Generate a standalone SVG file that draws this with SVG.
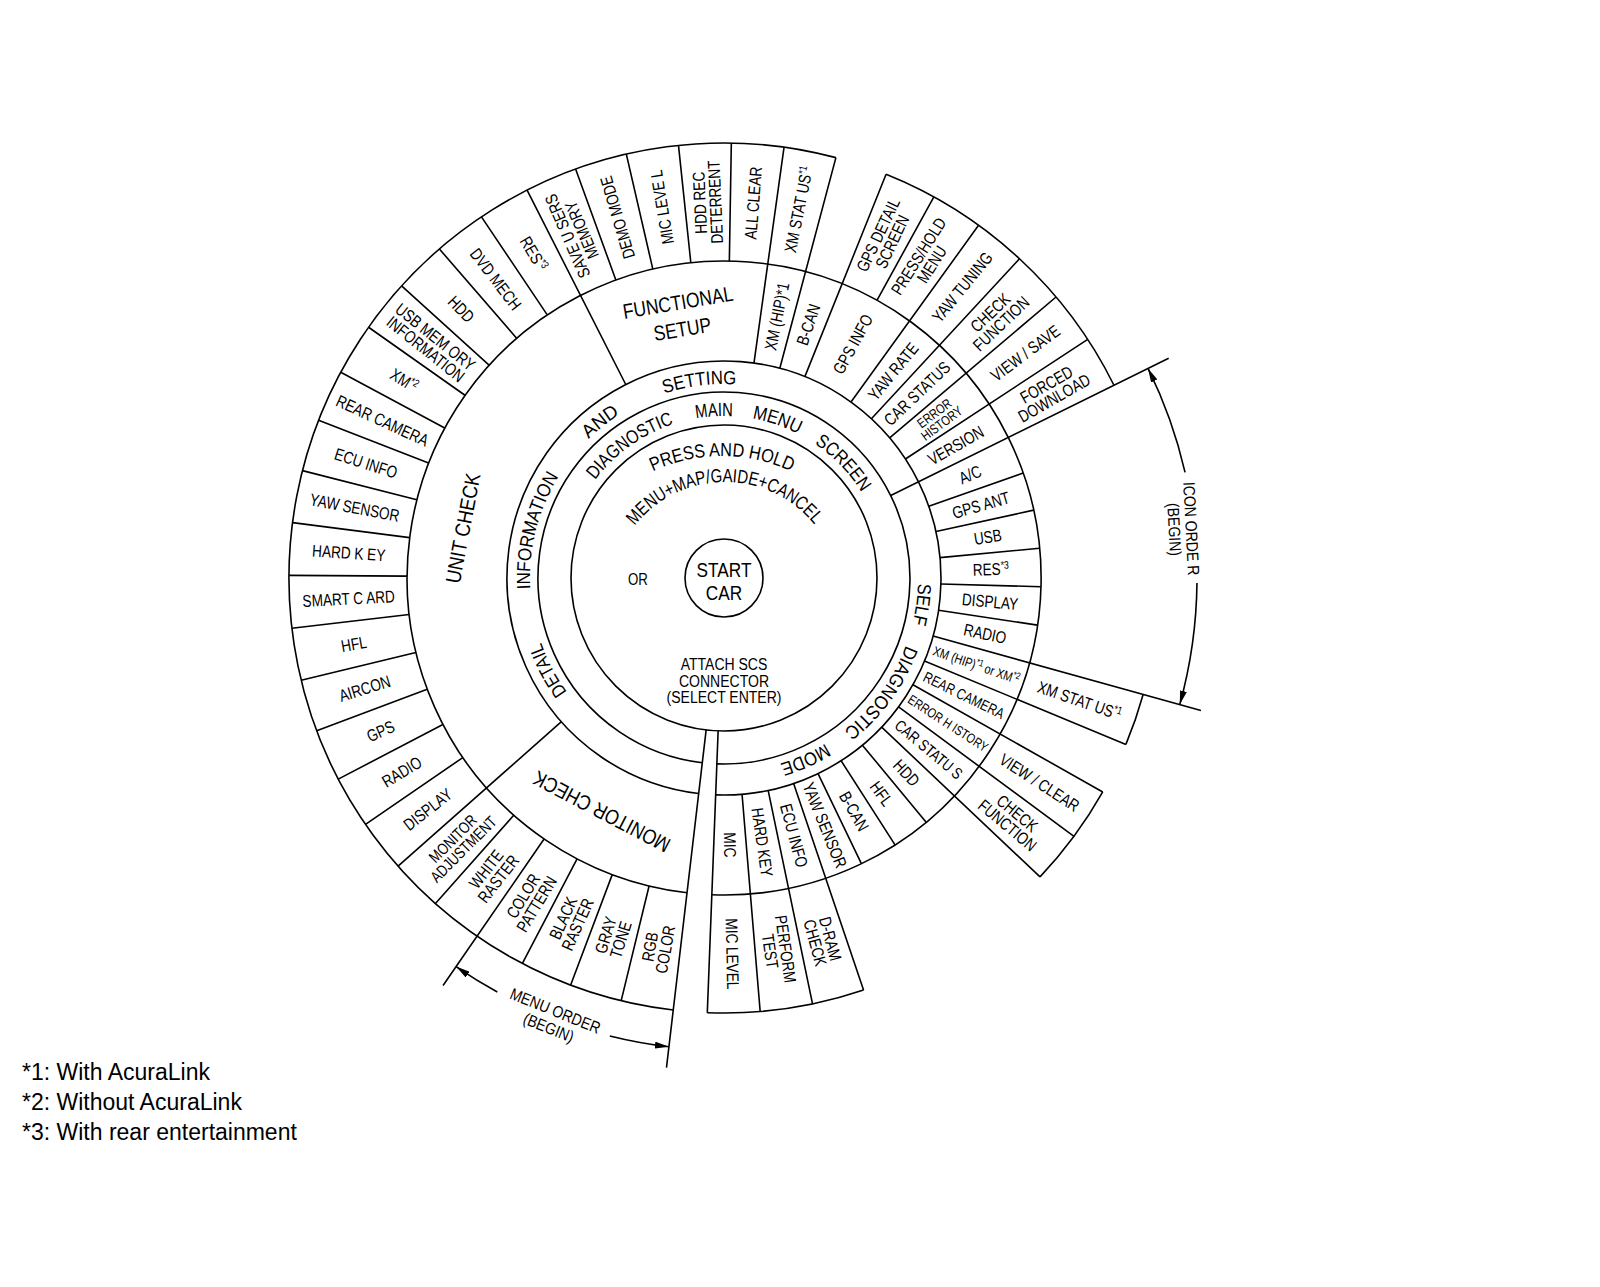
<svg xmlns="http://www.w3.org/2000/svg" width="1600" height="1287" viewBox="0 0 1600 1287">
<style>
.ln{fill:none;stroke:#000;stroke-width:1.6}
.t{font-family:"Liberation Sans",Arial,Helvetica,sans-serif;fill:#000;text-anchor:middle}
.f17{font-size:17px}
.f16{font-size:16px}
.f15{font-size:15px}
.f13{font-size:13.5px}
.f19{font-size:19px}
.f21{font-size:21px}
.f165{font-size:16.5px}
.sup{font-size:11px}
.note{font-family:"Liberation Sans",Arial,Helvetica,sans-serif;font-size:23px;fill:#000}
</style>
<defs>
<marker id="arr" viewBox="0 0 14 7" refX="14" refY="3.5" markerWidth="14" markerHeight="7" markerUnits="userSpaceOnUse" orient="auto"><path d="M0,0 L14,3.5 L0,7 Z" fill="#000"/></marker>
<path id="ringA" d="M 724 772 A 194 194 0 1 1 724 384 A 194 194 0 1 1 724 772"/>
<path id="ringB" d="M 724 740 A 162 162 0 1 1 724 416 A 162 162 0 1 1 724 740"/>
<path id="ringC" d="M 722 783 A 163.5 163.5 0 1 1 722 456 A 163.5 163.5 0 1 1 722 783"/>
<path id="ringD" d="M 725 712 A 115 115 0 1 1 725 482 A 115 115 0 1 1 725 712"/>
</defs>
<rect width="1600" height="1287" fill="#fff"/>

<g id="connectors">
<circle class="ln" cx="724" cy="578" r="39"/>
<circle class="ln" cx="724" cy="578" r="153"/>
<path class="ln" d="M 702.30 762.73 A 186 186 0 1 1 716.86 763.86"/>
<path class="ln" d="M 698.68 793.52 A 217 217 0 1 1 715.67 794.84"/>
<path class="ln" d="M 687.02 892.83 A 317 317 0 1 1 711.83 894.77"/>
<path class="ln" d="M 673.25 1010.03 A 435 435 0 1 1 835.90 157.64"/>
<path class="ln" d="M 886.09 174.32 A 435 435 0 0 1 1113.97 385.26"/>
<path class="ln" d="M 1143.13 694.42 A 435 435 0 0 1 1125.91 744.43"/>
<path class="ln" d="M 1102.74 791.97 A 435 435 0 0 1 1040.03 876.92"/>
<path class="ln" d="M 863.55 990.01 A 435 435 0 0 1 707.30 1012.68"/>
<path class="ln" d="M706.15 729.95 L666.48 1067.63 M649.08 886.02 L621.19 1000.68 M612.25 874.65 L570.66 985.08 M577.08 858.90 L522.39 963.46 M544.07 838.99 L443.04 985.54 M513.73 815.22 L435.46 903.53 M561.42 721.72 L398.08 866.10 M462.77 757.58 L365.53 824.42 M442.91 724.55 L338.27 779.10 M427.20 689.35 L316.72 730.80 M415.88 652.51 L301.18 680.24 M409.11 614.56 L291.90 628.17 M407.01 576.08 L289.01 575.37 M409.58 537.62 L292.55 522.59 M416.80 499.76 L302.45 470.64 M428.57 463.06 L318.60 420.28 M444.70 428.06 L340.74 372.24 M464.96 395.27 L368.54 327.25 M489.06 365.18 L401.60 285.96 M516.62 338.25 L439.42 249.00 M547.25 314.85 L481.46 216.89 M625.76 384.51 L527.08 190.13 M615.86 280.02 L575.60 169.10 M652.82 269.09 L626.33 154.11 M690.83 262.74 L678.49 145.39 M729.34 261.04 L731.33 143.06 M753.96 363.08 L784.06 147.17 M779.82 368.30 L835.90 157.64 M804.86 376.63 L886.09 174.32 M876.94 300.34 L933.87 196.98 M850.99 402.04 L978.57 225.27 M871.41 418.75 L1019.49 258.77 M889.64 437.82 L1056.05 296.99 M905.43 458.96 L1087.70 339.36 M890.75 495.59 L1168.66 358.24 M928.77 506.18 L1023.13 473.08 M935.97 531.55 L1033.65 510.15 M940.04 557.62 L1039.60 548.23 M940.92 583.99 L1040.88 586.75 M938.59 610.27 L1037.47 625.15 M933.08 636.08 L1200.94 710.48 M924.49 661.02 L1125.91 744.43 M912.93 684.74 L1102.74 791.97 M898.58 706.88 L1073.97 836.35 M881.65 727.11 L1040.03 876.92 M862.39 745.15 L926.16 822.17 M841.08 760.70 L895.04 844.90 M818.04 773.56 L861.38 863.68 M793.62 783.53 L863.55 990.01 M768.16 790.46 L812.52 1003.90 M742.05 794.25 L760.18 1011.49 M718.13 730.89 L707.30 1012.68"/>
<path class="ln" marker-end="url(#arr)" d="M 1185.06 472.40 A 473 473 0 0 0 1148.04 368.43"/>
<path class="ln" marker-end="url(#arr)" d="M 1196.97 582.95 A 473 473 0 0 1 1179.74 704.59"/>
<path class="ln" marker-end="url(#arr)" d="M 497.34 992.01 A 472 472 0 0 1 456.10 966.60"/>
<path class="ln" marker-end="url(#arr)" d="M 609.81 1035.98 A 472 472 0 0 0 668.93 1046.78"/>
</g>

<g id="hub">
<text class="t f21" transform="translate(724 576.5) scale(0.82 1)"><tspan x="0" y="0">START</tspan><tspan x="0" y="23.5">CAR</tspan></text>
<text class="t f16" transform="translate(638 585) scale(0.83 1)">OR</text>
<text class="t f165" transform="translate(724 670) scale(0.85 1)"><tspan x="0" y="0">ATTACH SCS</tspan><tspan x="0" y="16.7">CONNECTOR</tspan><tspan x="0" y="33.4">(SELECT ENTER)</tspan></text>
<text class="t f19"><textPath href="#ringC" startOffset="513.4" textLength="143" lengthAdjust="spacingAndGlyphs">PRESS AND HOLD</textPath></text>
<text class="t f19"><textPath href="#ringD" startOffset="360.08" textLength="206" lengthAdjust="spacingAndGlyphs">MENU+MAP/GAIDE+CANCEL</textPath></text>
</g>

<g id="main-menu-ring">
<text class="t f19"><textPath href="#ringB" startOffset="408.56" textLength="98" lengthAdjust="spacingAndGlyphs">DIAGNOSTIC</textPath></text>
<text class="t f19"><textPath href="#ringB" startOffset="499.04" textLength="37" lengthAdjust="spacingAndGlyphs">MAIN</textPath></text>
<text class="t f19"><textPath href="#ringB" startOffset="561.53" textLength="49" lengthAdjust="spacingAndGlyphs">MENU</textPath></text>
<text class="t f19"><textPath href="#ringB" startOffset="638.72" textLength="68" lengthAdjust="spacingAndGlyphs">SCREEN</textPath></text>
</g>

<g id="info-setting">
<text class="t f19"><textPath href="#ringA" startOffset="210.78" textLength="56" lengthAdjust="spacingAndGlyphs">DETAIL</textPath></text>
<text class="t f19"><textPath href="#ringA" startOffset="352.48" textLength="118" lengthAdjust="spacingAndGlyphs">INFORMATION</textPath></text>
<text class="t f19"><textPath href="#ringA" startOffset="479.45" textLength="40" lengthAdjust="spacingAndGlyphs">AND</textPath></text>
<text class="t f19"><textPath href="#ringA" startOffset="584.92" textLength="73" lengthAdjust="spacingAndGlyphs">SETTING</textPath></text>
</g>

<g id="self-diagnostic">
<text class="t f19"><textPath href="#ringA" startOffset="939.94" textLength="41" lengthAdjust="spacingAndGlyphs">SELF</textPath></text>
<text class="t f19"><textPath href="#ringA" startOffset="1036.10" textLength="107" lengthAdjust="spacingAndGlyphs">DIAGNOSTIC</textPath></text>
<text class="t f19"><textPath href="#ringA" startOffset="1136.66" textLength="50" lengthAdjust="spacingAndGlyphs">MODE</textPath></text>
</g>

<g id="unit-check"><text class="t f21" transform="translate(462.7 528.1) rotate(-79.2) scale(0.87 1)" y="7.5">UNIT CHECK</text></g>
<g id="monitor-check"><text class="t f21" transform="translate(601.6 811.9) rotate(207.6) scale(0.85 1)" y="7.5">MONITOR CHECK</text></g>
<g id="functional-setup"><text class="t f21" transform="translate(680.1 315.6) rotate(-9.5) scale(0.83 1)"><tspan x="0" y="-6">FUNCTIONAL</tspan><tspan x="0" y="21">SETUP</tspan></text></g>

<g id="mc-rgb-color"><text class="t f17" transform="translate(657.5 948.1) rotate(-79.8) scale(0.8 1)"><tspan x="0" y="-1.8">RGB</tspan><tspan x="0" y="13.8">COLOR</tspan></text></g>
<g id="mc-gray-tone"><text class="t f17" transform="translate(613.1 937.3) rotate(-72.8) scale(0.8 1)"><tspan x="0" y="-1.8">GRAY</tspan><tspan x="0" y="13.8">TONE</tspan></text></g>
<g id="mc-black-raster"><text class="t f17" transform="translate(570.3 921.2) rotate(-65.9) scale(0.8 1)"><tspan x="0" y="-1.8">BLACK</tspan><tspan x="0" y="13.8">RASTER</tspan></text></g>
<g id="mc-color-pattern"><text class="t f17" transform="translate(529.8 900.0) rotate(-58.9) scale(0.8 1)"><tspan x="0" y="-1.8">COLOR</tspan><tspan x="0" y="13.8">PATTERN</tspan></text></g>
<g id="mc-white-raster"><text class="t f17" transform="translate(492.2 874.0) rotate(-51.9) scale(0.8 1)"><tspan x="0" y="-1.8">WHITE</tspan><tspan x="0" y="13.8">RASTER</tspan></text></g>
<g id="mc-monitor-adjustment"><text class="t f16" transform="translate(458.0 843.7) rotate(-45.0) scale(0.8 1)"><tspan x="0" y="-1.6">MONITOR</tspan><tspan x="0" y="13.2">ADJUSTMENT</tspan></text></g>

<g id="uc-display"><text class="t f17" transform="translate(427.7 809.4) rotate(-38.0) scale(0.8 1)" y="6">DISPLAY</text></g>
<g id="uc-radio"><text class="t f17" transform="translate(401.8 771.8) rotate(-31.0) scale(0.8 1)" y="6">RADIO</text></g>
<g id="uc-gps"><text class="t f17" transform="translate(380.6 731.2) rotate(-24.0) scale(0.8 1)" y="6">GPS</text></g>
<g id="uc-aircon"><text class="t f17" transform="translate(364.6 688.4) rotate(-17.1) scale(0.8 1)" y="6">AIRCON</text></g>
<g id="uc-hfl"><text class="t f17" transform="translate(353.8 644.0) rotate(-10.1) scale(0.8 1)" y="6">HFL</text></g>
<g id="uc-smart-card"><text class="t f17" transform="translate(348.6 598.6) rotate(-3.1) scale(0.8 1)" y="6">SMART C ARD</text></g>
<g id="uc-hard-key"><text class="t f17" transform="translate(348.8 552.9) rotate(3.8) scale(0.8 1)" y="6">HARD K EY</text></g>
<g id="uc-yaw-sensor"><text class="t f17" transform="translate(354.7 507.5) rotate(10.8) scale(0.8 1)" y="6">YAW SENSOR</text></g>
<g id="uc-ecu-info"><text class="t f17" transform="translate(366.0 463.2) rotate(17.8) scale(0.8 1)" y="6">ECU INFO</text></g>
<g id="uc-rear-camera"><text class="t f17" transform="translate(382.5 420.6) rotate(24.7) scale(0.8 1)" y="6">REAR CAMERA</text></g>
<g id="uc-xm"><text class="t f17" transform="translate(404.2 380.3) rotate(31.7) scale(0.8 1)" y="6">XM<tspan class="sup" dy="-6">*2</tspan></text></g>
<g id="uc-usb-memory"><text class="t f17" transform="translate(430.5 343.0) rotate(38.7) scale(0.8 1)"><tspan x="0" y="-1.8">USB MEM ORY</tspan><tspan x="0" y="13.8">INFORMATION</tspan></text></g>
<g id="uc-hdd"><text class="t f17" transform="translate(461.2 309.1) rotate(45.7) scale(0.8 1)" y="6">HDD</text></g>
<g id="uc-dvd-mech"><text class="t f17" transform="translate(495.8 279.2) rotate(52.6) scale(0.8 1)" y="6">DVD MECH</text></g>
<g id="uc-res"><text class="t f17" transform="translate(533.7 253.7) rotate(59.6) scale(0.8 1)" y="6">RES<tspan class="sup" dy="-6">*3</tspan></text></g>

<g id="fs-save-users-memory"><text class="t f17" transform="translate(574.5 233.0) rotate(-113.4) scale(0.8 1)"><tspan x="0" y="-1.8">SAVE U SERS</tspan><tspan x="0" y="13.8">MEMORY</tspan></text></g>
<g id="fs-demo-mode"><text class="t f17" transform="translate(617.5 217.4) rotate(-106.5) scale(0.8 1)" y="6">DEMO MODE</text></g>
<g id="fs-mic-level"><text class="t f17" transform="translate(662.0 207.2) rotate(-99.5) scale(0.8 1)" y="6">MIC LEVE L</text></g>
<g id="fs-hdd-rec"><text class="t f17" transform="translate(707.5 202.4) rotate(-92.5) scale(0.8 1)"><tspan x="0" y="-1.8">HDD REC</tspan><tspan x="0" y="13.8">DETERRENT</tspan></text></g>
<g id="fs-all-clear"><text class="t f17" transform="translate(753.2 203.1) rotate(-85.5) scale(0.8 1)" y="6">ALL CLEAR</text></g>
<g id="fs-xm-status"><text class="t f17" transform="translate(798.5 209.4) rotate(-78.6) scale(0.8 1)" y="6">XM STAT US<tspan class="sup" dy="-6">*1</tspan></text></g>

<g id="sd-xm-hip"><text class="t f17" transform="translate(776.9 316.3) rotate(-78.6) scale(0.8 1)" y="6">XM (HIP)*1</text></g>
<g id="sd-b-can-top"><text class="t f17" transform="translate(808.2 324.6) rotate(-71.6) scale(0.8 1)" y="6">B-CAN</text></g>
<g id="sd-gps-info"><text class="t f17" transform="translate(852.8 344.1) rotate(-61.2) scale(0.8 1)" y="6">GPS INFO</text></g>
<g id="sd-gps-detail"><text class="t f17" transform="translate(885.1 238.2) rotate(-64.6) scale(0.8 1)"><tspan x="0" y="-1.8">GPS DETAIL</tspan><tspan x="0" y="13.8">SCREEN</tspan></text></g>
<g id="sd-press-hold"><text class="t f17" transform="translate(925.1 260.3) rotate(-57.7) scale(0.8 1)"><tspan x="0" y="-1.8">PRESS/HOLD</tspan><tspan x="0" y="13.8">MENU</tspan></text></g>
<g id="sd-yaw-rate"><text class="t f17" transform="translate(893.1 371.4) rotate(-50.7) scale(0.8 1)" y="6">YAW RATE</text></g>
<g id="sd-yaw-tuning"><text class="t f17" transform="translate(962.2 287.1) rotate(-50.7) scale(0.8 1)" y="6">YAW TUNING</text></g>
<g id="sd-car-status-top"><text class="t f17" transform="translate(917.0 393.5) rotate(-43.7) scale(0.8 1)" y="6">CAR STATUS</text></g>
<g id="sd-check-function-top"><text class="t f17" transform="translate(995.7 318.1) rotate(-43.7) scale(0.8 1)"><tspan x="0" y="-1.8">CHECK</tspan><tspan x="0" y="13.8">FUNCTION</tspan></text></g>
<g id="sd-error-history-top"><text class="t f13" transform="translate(937.9 418.2) rotate(-36.8) scale(0.8 1)"><tspan x="0" y="-1.5">ERROR</tspan><tspan x="0" y="11">HISTORY</tspan></text></g>
<g id="sd-view-save"><text class="t f17" transform="translate(1025.3 353.0) rotate(-36.8) scale(0.8 1)" y="6">VIEW / SAVE</text></g>
<g id="sd-version"><text class="t f17" transform="translate(955.7 445.4) rotate(-29.8) scale(0.8 1)" y="6">VERSION</text></g>
<g id="sd-forced-download"><text class="t f17" transform="translate(1050.3 391.2) rotate(-29.8) scale(0.8 1)"><tspan x="0" y="-1.8">FORCED</tspan><tspan x="0" y="13.8">DOWNLOAD</tspan></text></g>

<g id="sd-ac"><text class="t f17" transform="translate(970.1 474.5) rotate(-22.8) scale(0.8 1)" y="6">A/C</text></g>
<g id="sd-gps-ant"><text class="t f17" transform="translate(980.9 505.1) rotate(-15.8) scale(0.8 1)" y="6">GPS ANT</text></g>
<g id="sd-usb"><text class="t f17" transform="translate(987.8 536.8) rotate(-8.9) scale(0.8 1)" y="6">USB</text></g>
<g id="sd-res"><text class="t f17" transform="translate(990.9 569.1) rotate(-1.9) scale(0.8 1)" y="6">RES<tspan class="sup" dy="-6">*3</tspan></text></g>
<g id="sd-display"><text class="t f17" transform="translate(990.0 601.6) rotate(5.1) scale(0.8 1)" y="6">DISPLAY</text></g>
<g id="sd-radio"><text class="t f17" transform="translate(985.1 633.7) rotate(12.0) scale(0.8 1)" y="6">RADIO</text></g>
<g id="sd-xm"><text class="t f13" transform="translate(976.4 665.0) rotate(19.0) scale(0.8 1)" y="4.8">XM (HIP)<tspan font-size="9.5" dy="-5">*1</tspan><tspan dy="5"> or XM</tspan><tspan font-size="9.5" dy="-5">*2</tspan></text></g>
<g id="sd-xm-status"><text class="t f17" transform="translate(1079.5 700.5) rotate(19.0) scale(0.8 1)" y="6">XM STAT US<tspan class="sup" dy="-6">*1</tspan></text></g>
<g id="sd-rear-camera"><text class="t f15" transform="translate(964.0 695.0) rotate(26.0) scale(0.8 1)" y="5.4">REAR CAMERA</text></g>
<g id="sd-error-history"><text class="t f13" transform="translate(948.1 723.2) rotate(33.0) scale(0.8 1)" y="4.8">ERROR H ISTORY</text></g>
<g id="sd-view-clear"><text class="t f17" transform="translate(1039.5 782.5) rotate(33.0) scale(0.8 1)" y="6">VIEW / CLEAR</text></g>
<g id="sd-car-status"><text class="t f16" transform="translate(928.8 749.3) rotate(39.9) scale(0.8 1)" y="5.7">CAR STATU S</text></g>
<g id="sd-check-function"><text class="t f17" transform="translate(1012.4 819.3) rotate(39.9) scale(0.8 1)"><tspan x="0" y="-1.8">CHECK</tspan><tspan x="0" y="13.8">FUNCTION</tspan></text></g>
<g id="sd-hdd"><text class="t f17" transform="translate(906.5 772.9) rotate(46.9) scale(0.8 1)" y="6">HDD</text></g>
<g id="sd-hfl"><text class="t f17" transform="translate(881.5 793.6) rotate(53.9) scale(0.8 1)" y="6">HFL</text></g>
<g id="sd-b-can"><text class="t f17" transform="translate(854.1 811.2) rotate(60.8) scale(0.8 1)" y="6">B-CAN</text></g>
<g id="sd-yaw-sensor"><text class="t f17" transform="translate(824.9 825.2) rotate(67.8) scale(0.8 1)" y="6">YAW SENSOR</text></g>
<g id="sd-ecu-info"><text class="t f17" transform="translate(794.1 835.6) rotate(74.8) scale(0.8 1)" y="6">ECU INFO</text></g>
<g id="sd-d-ram"><text class="t f17" transform="translate(822.8 940.8) rotate(74.8) scale(0.8 1)"><tspan x="0" y="-1.8">D-RAM</tspan><tspan x="0" y="13.8">CHECK</tspan></text></g>
<g id="sd-hard-key"><text class="t f17" transform="translate(762.3 842.2) rotate(81.7) scale(0.8 1)" y="6">HARD KEY</text></g>
<g id="sd-perform-test"><text class="t f17" transform="translate(778.0 950.1) rotate(81.7) scale(0.8 1)"><tspan x="0" y="-1.8">PERFORM</tspan><tspan x="0" y="13.8">TEST</tspan></text></g>
<g id="sd-mic"><text class="t f17" transform="translate(730.0 844.9) rotate(88.7) scale(0.8 1)" y="6">MIC</text></g>
<g id="sd-mic-level"><text class="t f17" transform="translate(732.4 953.9) rotate(88.7) scale(0.8 1)" y="6">MIC LEVEL</text></g>

<g id="icon-order"><text class="t f165" transform="translate(1183 529) rotate(87) scale(0.85 1)"><tspan x="0" y="-2.6">ICON ORDE R</tspan><tspan x="0" y="14.4">(BEGIN)</tspan></text></g>
<g id="menu-order"><text class="t f165" transform="translate(552 1019) rotate(22) scale(0.85 1)"><tspan x="0" y="-3.1">MENU ORDER</tspan><tspan x="0" y="14.9">(BEGIN)</tspan></text></g>

<g id="footnotes">
<text class="note" x="22" y="1080">*1: With AcuraLink</text>
<text class="note" x="22" y="1110">*2: Without AcuraLink</text>
<text class="note" x="22" y="1140">*3: With rear entertainment</text>
</g>
</svg>
